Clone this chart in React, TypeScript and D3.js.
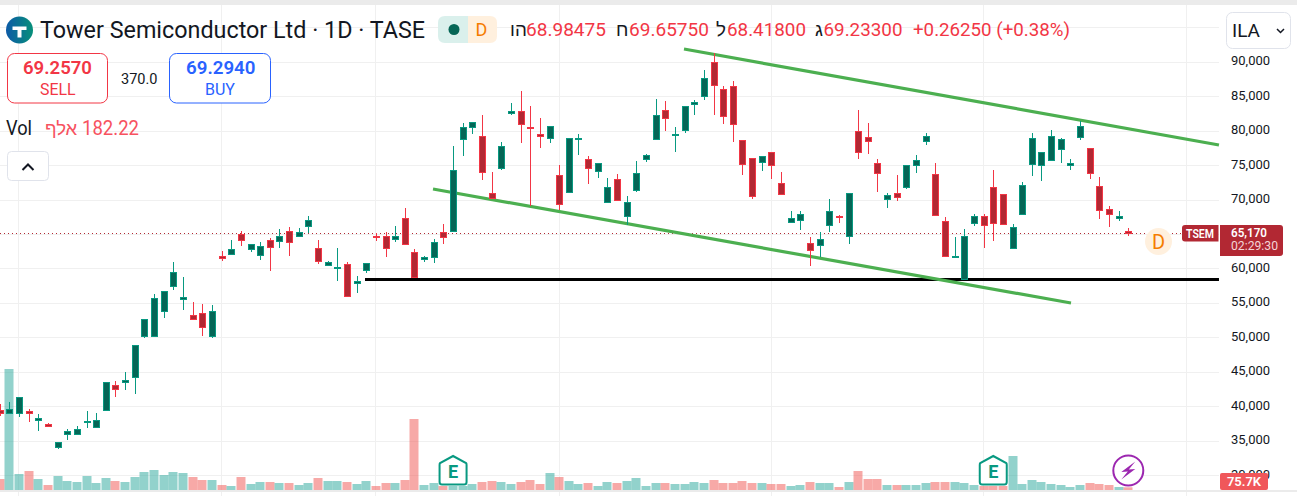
import * as d3 from "d3";

const opens = [39500,39020,39020,39260,38000,37470,34080,35970,35970,37720,36990,39500,43130,43520,44250,50200,50200,53830,57460,55570,53300,53590,50200,61860,62110,65060,62830,61960,64190,63990,65490,64720,66130,63030,60510,60120,60610,57800,59690,64780,64670,64190,67290,62350,61430,61580,65250,65400,78710,80500,79190,70920,74500,82480,82820,80550,79480,78850,73530,71010,78850,75850,74110,69560,72950,67530,71300,75800,78710,83040,79350,80090,83910,85020,90000,86080,86520,78690,76080,75450,76950,72450,66740,67030,63750,63410,66310,67620,64710,79990,79120,75350,70080,71000,71820,75010,78490,73760,66940,61690,58510,66640,67660,71870,70850,63010,67950,75210,75060,75740,77390,75110,79130,77440,72010,68680,67320,65480];
const highs = [40420,40710,41390,39650,38970,37660,34860,36740,37230,39360,39120,43570,43760,45070,48940,52720,56350,56780,60990,58860,55230,54940,54800,62590,64240,65540,63610,63950,64480,65800,66090,65900,67680,64240,61190,62980,60950,58910,60750,65160,65400,66170,68790,62830,61820,64290,66460,77790,81130,81230,82290,74010,78370,84030,85780,83600,81850,80640,75030,78900,79530,76340,75270,73140,73720,70530,75610,76630,84610,84390,80620,83620,84540,88890,91310,86570,87240,78690,76080,76370,76950,74090,68440,68440,64670,65390,70180,67860,71000,83090,81200,75980,71050,73660,75060,76560,79750,75400,67520,64670,65820,68000,68000,74390,70850,66550,72640,79760,76950,80190,79030,75940,81500,77580,73370,69160,68430,65960];
const lows = [38580,39020,38440,37710,36410,37130,33790,35240,35970,36840,36990,39500,41340,42360,41780,49910,50200,52810,56880,53970,52670,50200,49910,61090,62110,63270,62400,61230,59640,62980,61820,64720,65170,60650,60360,58240,55960,56490,59400,64040,61720,63900,63510,58670,60990,60850,63610,65400,76340,79530,72850,70140,74350,82290,78220,69080,77500,78220,68500,71010,76480,72270,73140,69560,69850,66320,71110,75470,78710,80040,76990,79750,82360,84540,82360,81060,78440,73660,70180,74240,73080,70810,66740,65680,60460,61720,65390,66740,63650,76030,76700,71190,68870,69890,71630,73950,78010,67810,61810,61690,58510,66300,63060,64080,66500,63010,67950,73560,72840,75600,75450,74390,78790,73080,67320,66160,67030,64850];
const closes = [39020,39650,41390,39020,38340,37130,34860,36450,36740,37800,38050,43570,42500,43860,48940,52720,55770,56780,59540,55910,52670,51510,53880,61530,62880,64140,63610,63320,63120,64770,63850,65350,67060,61090,60900,60220,55960,58140,60750,64680,62930,64670,63510,58670,61670,63800,64530,74260,80500,81230,73920,70140,77740,82820,80890,80450,79140,80640,69320,78900,79000,74500,75270,71790,69850,69610,73820,76430,82240,81880,79450,83620,84200,87680,86620,82120,81010,75160,70520,76370,75010,70810,67370,67950,62680,64330,68390,67520,71000,76900,78490,73850,70710,70370,75060,75790,79270,67810,61810,61740,64750,67660,66350,66640,66500,66060,72160,78980,76950,79270,78840,75350,80730,73760,68530,67950,67560,65170];
const volumes = [308,3388,448,532,308,140,392,252,224,392,196,336,252,224,364,504,560,420,504,476,364,280,280,140,112,364,168,224,224,196,196,140,196,336,252,252,224,168,252,112,196,196,280,1988,140,196,112,112,112,168,224,252,224,168,224,280,168,476,364,252,168,196,112,224,196,252,336,112,196,196,168,168,224,196,280,196,196,252,196,196,168,168,112,140,224,196,196,84,224,532,308,308,140,140,140,140,196,224,224,224,196,140,112,112,112,952,168,280,224,168,140,84,140,196,168,140,84,75.7];

const priceTicks = d3.range(30000, 95001, 5000);
const hiddenPriceLabels = [65000, 95000];
const timeGridIndices = [2, 23, 39, 58, 80, 102, 123];
const earningsIndices = [47, 103];
const splitIndex = 117;
const lastPrice = 65170;
const upperTrend = [[70.94, 91930], [126.4, 77990]];
const lowerTrend = [[44.92, 71600], [111.06, 55050]];
const supportLine = [[37.87, 58460], [126.4, 58460]];

const WIDTH = 1297;
const HEIGHT = 496;
const PLOT_RIGHT = 1219;
const FONT = "Roboto, 'Noto Sans', sans-serif";

const GREEN = "#089981";
const GREEN_BODY = "#056656";
const RED = "#f23645";
const RED_BODY = "#b22833";

const x = d3.scaleLinear().domain([0, 117]).range([-0.3, 1128.3]);
const y = d3.scaleLinear().domain([30000, 90000]).range([475.6, 62.3]);
const yVol = d3.scaleLinear().domain([0, 3388]).range([490, 369]);
const crisp = (v: number) => Math.round(v - 0.5) + 0.5;
const trendPath = d3
  .line<number[]>()
  .x((d) => x(d[0]))
  .y((d) => y(d[1]));

function EarningsMark({ cx }: { cx: number }) {
  const l = cx - 13;
  const r = cx + 13;
  return (
    <g>
      <path
        d={`M${cx},456 L${r},463 Q${r + 0.5},463.5 ${r + 0.5},465 L${r + 0.5},482 Q${r + 0.5},484.5 ${r - 2},484.5 L${l + 2},484.5 Q${l - 0.5},484.5 ${l - 0.5},482 L${l - 0.5},465 Q${l - 0.5},463.5 ${l},463 Z`}
        fill="#fff"
        stroke={GREEN}
        strokeWidth={2}
      />
      <text x={cx} y={478} textAnchor="middle" fontSize={18} fontWeight={700} fill={GREEN} fontFamily={FONT}>
        E
      </text>
    </g>
  );
}

export default function App() {
  const bandwidth = 6;
  return (
    <svg
      width={WIDTH}
      height={HEIGHT}
      viewBox={`0 0 ${WIDTH} ${HEIGHT}`}
      style={{ position: "absolute", left: 0, top: 0, display: "block", background: "#fff" }}
      fontFamily={FONT}
    >
      <defs>
        <linearGradient id="logo" x1="0" x2="1" y1="0" y2="0">
          <stop offset="0" stopColor="#0d5aa7" />
          <stop offset="1" stopColor="#07907a" />
        </linearGradient>
      </defs>

      {/* grid */}
      {priceTicks.map((t) => (
        <line key={t} x1={0} x2={PLOT_RIGHT} y1={crisp(y(t))} y2={crisp(y(t))} stroke="#f0f0f0" />
      ))}
      {timeGridIndices.map((i) => (
        <line key={i} x1={crisp(x(i))} x2={crisp(x(i))} y1={5} y2={HEIGHT} stroke="#f0f0f0" />
      ))}

      {/* volume */}
      {volumes.map((v, i) => (
        <rect
          key={i}
          x={Math.round(x(i)) - 4.5}
          width={9}
          y={yVol(v)}
          height={490 - yVol(v)}
          fill={closes[i] >= opens[i] ? "rgba(38,166,154,0.5)" : "rgba(239,83,80,0.5)"}
        />
      ))}

      {/* last price */}
      <line x1={0} x2={1182} y1={crisp(y(lastPrice))} y2={crisp(y(lastPrice))} stroke={RED_BODY} strokeDasharray="1 3" />

      {/* drawings */}
      <path d={trendPath(supportLine) ?? ""} stroke="#000" strokeWidth={3} fill="none" />
      <path d={trendPath(upperTrend) ?? ""} stroke="#4caf50" strokeWidth={3.2} fill="none" />
      <path d={trendPath(lowerTrend) ?? ""} stroke="#4caf50" strokeWidth={3.2} fill="none" />

      {/* candles */}
      {opens.map((o, i) => {
        const c = closes[i];
        const up = c >= o;
        const cx = Math.round(x(i));
        const top = y(Math.max(o, c));
        const bottom = y(Math.min(o, c));
        const h = Math.max(Math.round(bottom - top), 1);
        return (
          <g key={i}>
            <line
              x1={cx}
              x2={cx}
              y1={y(highs[i])}
              y2={y(lows[i])}
              stroke={up ? GREEN : RED}
              strokeWidth={1}
              shapeRendering="crispEdges"
            />
            <rect
              x={cx - bandwidth / 2}
              y={crisp(top)}
              width={bandwidth}
              height={h}
              fill={up ? GREEN_BODY : RED_BODY}
              stroke={up ? GREEN : RED}
              strokeWidth={1}
              shapeRendering="crispEdges"
            />
          </g>
        );
      })}

      {/* bottom and top bands */}
      <rect x={0} y={0} width={WIDTH} height={5} fill="#ebebeb" />
      <rect x={0} y={490} width={WIDTH} height={2} fill="#ebebeb" />

      {/* price axis */}
      {priceTicks
        .filter((t) => !hiddenPriceLabels.includes(t))
        .map((t) => (
          <text key={t} x={1231} y={y(t) + 3} fontSize={13} textLength={39} lengthAdjust="spacingAndGlyphs" fill="#131722">
            {d3.format(",")(t)}
          </text>
        ))}

      {/* volume and price tags */}
      <rect x={1220} y={473} width={48} height={17} rx={2} fill="#f0575a" />
      <text x={1244} y={486} textAnchor="middle" fontSize={13} fontWeight={600} fill="#fff">
        75.7K
      </text>
      <path d="M1185,225 H1218.5 V241.5 H1185 Q1182,241.5 1182,238.5 V228 Q1182,225 1185,225 Z" fill={RED_BODY} />
      <text x={1200} y={237.5} textAnchor="middle" fontSize={13} fontWeight={600} textLength={28} lengthAdjust="spacingAndGlyphs" fill="#fff">
        TSEM
      </text>
      <path d="M1220,225 H1280 Q1283,225 1283,228 V253 Q1283,256 1280,256 H1220 Z" fill={RED_BODY} />
      <text x={1231} y={237} fontSize={13} fontWeight={600} textLength={36} lengthAdjust="spacingAndGlyphs" fill="#fff">
        65,170
      </text>
      <text x={1231} y={250} fontSize={13} textLength={47} lengthAdjust="spacingAndGlyphs" fill="#f4d4d7">
        02:29:30
      </text>
      <circle cx={1158.5} cy={241.5} r={13.5} fill="#fff0de" />
      <text x={1158.5} y={248.5} textAnchor="middle" fontSize={20} fill="#f57c00">
        D
      </text>

      {/* event markers */}
      {earningsIndices.map((i) => (
        <EarningsMark key={i} cx={x(i)} />
      ))}
      <circle cx={x(splitIndex)} cy={470.5} r={15} fill="#fff" stroke="#9c27b0" strokeWidth={2} />
      <path
        d={`M${x(splitIndex) + 7},461.5 L${x(splitIndex) - 7},472 L${x(splitIndex) - 0.5},471.5 L${x(splitIndex) - 7},479.5 L${x(splitIndex) + 7},469 L${x(splitIndex) + 0.5},469.5 Z`}
        fill="#9c27b0"
      />

      {/* header */}
      <circle cx={19.5} cy={30} r={13.5} fill="url(#logo)" />
      <rect x={12.5} y={26.5} width={14} height={3.5} fill="#fff" />
      <rect x={17.5} y={30} width={4} height={7.5} fill="#fff" />
      <text x={40} y={38} fontSize={24} fill="#131722" textLength={385} lengthAdjust="spacingAndGlyphs">
        Tower Semiconductor Ltd · 1D · TASE
      </text>
      <path d="M445,16 H468 V43 H445 Q438,43 438,36 V23 Q438,16 445,16 Z" fill="#daf0ec" />
      <path d="M468,16 H490 Q497,16 497,23 V36 Q497,43 490,43 H468 Z" fill="#fff0de" />
      <circle cx={454} cy={29.5} r={5.5} fill={GREEN_BODY} />
      <text x={481.5} y={35.5} textAnchor="middle" fontSize={18} fill="#f57c00">
        D
      </text>
      <g fontSize={18.8} fill={RED}>
        <text x={510} y={36} fill="#131722">הו</text>
        <text x={526} y={36} textLength={80} lengthAdjust="spacingAndGlyphs">68.98475</text>
        <text x={616} y={36} fill="#131722">ח</text>
        <text x={629} y={36} textLength={80} lengthAdjust="spacingAndGlyphs">69.65750</text>
        <text x={716} y={36} fill="#131722">ל</text>
        <text x={727} y={36} textLength={79} lengthAdjust="spacingAndGlyphs">68.41800</text>
        <text x={815} y={36} fill="#131722">ג</text>
        <text x={823.5} y={36} textLength={79} lengthAdjust="spacingAndGlyphs">69.23300</text>
        <text x={913} y={36} textLength={157} lengthAdjust="spacingAndGlyphs">+0.26250 (+0.38%)</text>
      </g>
      <rect x={1226.5} y={12.5} width={64} height={36} rx={6} fill="#fff" stroke="#e0e3eb" />
      <text x={1232} y={37} fontSize={19} fill="#131722">
        ILA
      </text>
      <path d="M1277,29 L1280.5,32.5 L1284,29" stroke="#131722" strokeWidth={1.5} fill="none" />

      {/* order buttons */}
      <rect x={7.5} y={53.5} width={100} height={49.5} rx={7} fill="#fff" stroke={RED} />
      <text x={23} y={74} fontSize={18} fontWeight={600} textLength={69} lengthAdjust="spacingAndGlyphs" fill={RED}>
        69.2570
      </text>
      <text x={40} y={94.5} fontSize={17} textLength={35.5} lengthAdjust="spacingAndGlyphs" fill={RED}>
        SELL
      </text>
      <text x={121} y={84} fontSize={15} textLength={36.5} lengthAdjust="spacingAndGlyphs" fill="#131722">
        370.0
      </text>
      <rect x={169.5} y={53.5} width={101} height={49.5} rx={7} fill="#fff" stroke="#2962ff" />
      <text x={186} y={74} fontSize={18} fontWeight={600} textLength={69.5} lengthAdjust="spacingAndGlyphs" fill="#2962ff">
        69.2940
      </text>
      <text x={205} y={94.5} fontSize={17} textLength={30} lengthAdjust="spacingAndGlyphs" fill="#2962ff">
        BUY
      </text>

      {/* volume legend */}
      <text x={6} y={135} fontSize={19.5} textLength={26} lengthAdjust="spacingAndGlyphs" fill="#131722">
        Vol
      </text>
      <text x={45} y={135} fontSize={18.5} fill="#f7525f">
        אלף
      </text>
      <text x={82} y={135} fontSize={19.5} textLength={57} lengthAdjust="spacingAndGlyphs" fill="#f7525f">
        182.22
      </text>
      <rect x={7.5} y={151.5} width={41} height={29} rx={4} fill="#fff" stroke="#e0e3eb" />
      <path d="M22.5,170 L28,164.5 L33.5,170" stroke="#131722" strokeWidth={2} fill="none" />
    </svg>
  );
}
